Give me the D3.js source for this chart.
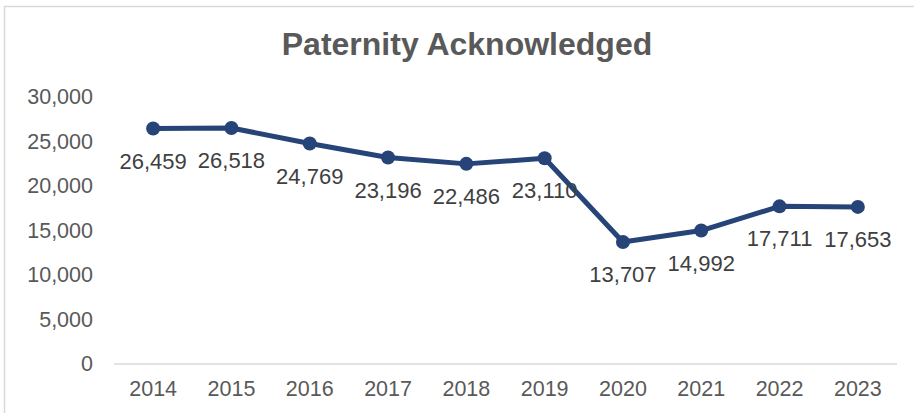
<!DOCTYPE html>
<html>
<head>
<meta charset="utf-8">
<script src="https://cdn.jsdelivr.net/npm/d3@7"></script>
<style>
body { margin: 0; background: #fff; }
</style>
</head>
<body>
<div id="chart"></div>
<script>
var years = ["2014", "2015", "2016", "2017", "2018", "2019", "2020", "2021", "2022", "2023"];
var acknowledged = [26459, 26518, 24769, 23196, 22486, 23110, 13707, 14992, 17711, 17653];
var yTicks = [0, 5000, 10000, 15000, 20000, 25000, 30000];

var svgWidth = 914, svgHeight = 413;
var plotLeft = 114, plotRight = 897, plotTop = 97, plotBottom = 364;
var lineColour = "#264478";
var textColour = "#595959";
var fontFamily = "Liberation Sans, Arial, sans-serif";

var svg = d3.select("#chart").append("svg")
    .attr("width", svgWidth)
    .attr("height", svgHeight);

// chart border
svg.append("path")
    .attr("d", "M4.5," + svgHeight + " L4.5,6.5 L" + svgWidth + ",6.5")
    .attr("fill", "none")
    .style("stroke", "#d9d9d9").style("stroke-width", 1.5);

// title
svg.append("text")
    .text("Paternity Acknowledged")
    .attr("x", 467)
    .attr("y", 55)
    .attr("text-anchor", "middle")
    .attr("font-family", fontFamily)
    .attr("font-size", 32)
    .attr("font-weight", "bold")
    .attr("fill", textColour);

var x = d3.scaleBand().domain(years).range([plotLeft, plotRight]);
var y = d3.scaleLinear().domain([0, 30000]).range([plotBottom, plotTop]);

// baseline
svg.append("line")
    .attr("x1", plotLeft).attr("x2", plotRight)
    .attr("y1", plotBottom).attr("y2", plotBottom)
    .style("stroke", "#d9d9d9").style("stroke-width", 1.5);

// y-axis labels
var yAxis = svg.append("g")
    .attr("transform", "translate(" + (plotLeft - 21) + ",0)")
    .call(d3.axisLeft(y).tickValues(yTicks).tickFormat(d3.format(",")).tickSize(0).tickPadding(0));
yAxis.select(".domain").remove();
yAxis.selectAll("text")
    .attr("font-family", fontFamily)
    .attr("font-size", 21.5)
    .attr("fill", textColour);

// x-axis labels
var xAxis = svg.append("g")
    .attr("transform", "translate(0," + plotBottom + ")")
    .call(d3.axisBottom(x).tickSize(0).tickPadding(17));
xAxis.select(".domain").remove();
xAxis.selectAll("text")
    .attr("font-family", fontFamily)
    .attr("font-size", 21.5)
    .attr("fill", textColour);

var cx = function(d, i) { return x(years[i]) + x.bandwidth() / 2; };

// line
svg.append("path")
    .datum(acknowledged)
    .attr("d", d3.line().x(cx).y(function(d) { return y(d); }))
    .attr("fill", "none")
    .style("stroke", lineColour).style("stroke-width", 5)
    .style("stroke-linejoin", "round");

// markers
svg.selectAll("circle.pt")
    .data(acknowledged)
    .enter().append("circle")
    .attr("class", "pt")
    .attr("cx", cx)
    .attr("cy", function(d) { return y(d); })
    .attr("r", 7)
    .attr("fill", lineColour);

// data labels
svg.selectAll("text.lbl")
    .data(acknowledged)
    .enter().append("text")
    .attr("class", "lbl")
    .text(d3.format(","))
    .attr("x", cx)
    .attr("y", function(d) { return y(d) + 40; })
    .attr("text-anchor", "middle")
    .attr("font-family", fontFamily)
    .attr("font-size", 22)
    .attr("fill", "#404040");
</script>
</body>
</html>
